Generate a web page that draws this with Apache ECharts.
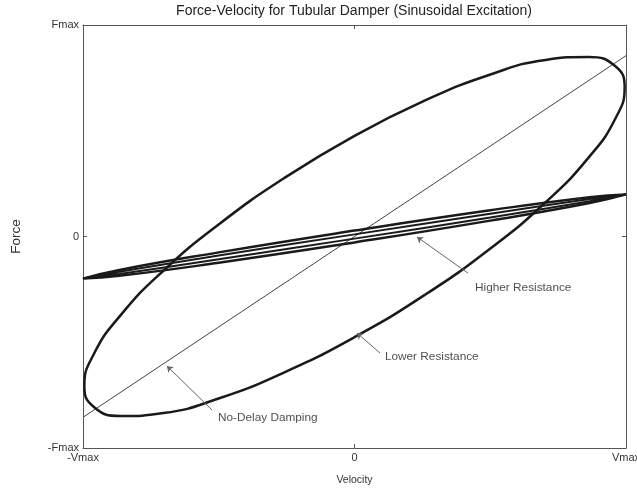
<!DOCTYPE html>
<html>
<head>
<meta charset="utf-8">
<script src="https://cdn.jsdelivr.net/npm/echarts@6/dist/echarts.min.js"></script>
<style>html,body{margin:0;padding:0;background:#fff;overflow:hidden;}#c{width:637px;height:493px;}</style>
</head>
<body>
<div id="c"></div>
<script>
// Axis ticks (normalised units) and their labels
const velocityTicks = [-1, 0, 1];
const velocityTickLabels = ['-Vmax', '0', 'Vmax'];
const forceTicks = [-1, 0, 1];
const forceTickLabels = ['-Fmax', '0', 'Fmax'];

// No-delay damping: straight line through origin
const noDelayDamping = [[-1, -0.855], [1, 0.855]];

// Lower resistance loop (large ellipse)
const lowerResistance = [
  [0, 0.476], [0.258, 0.642], [0.498, 0.765], [0.704, 0.835], [0.862, 0.849],
  [0.961, 0.805], [0.995, 0.706], [0.961, 0.558], [0.862, 0.373], [0.704, 0.162],
  [0.498, -0.059], [0.258, -0.277], [0, -0.476], [-0.258, -0.642], [-0.498, -0.765],
  [-0.704, -0.835], [-0.862, -0.849], [-0.961, -0.805], [-0.995, -0.706], [-0.961, -0.558],
  [-0.862, -0.373], [-0.704, -0.162], [-0.498, 0.059], [-0.258, 0.277], [0, 0.476]
];

// Higher resistance loops (narrow band), outer and inner
const higherResistanceOuter = [
  [1, 0.199], [0.866, 0.158], [0.5, 0.075], [0, -0.028], [-0.5, -0.124], [-0.866, -0.186],
  [-1, -0.199], [-0.866, -0.158], [-0.5, -0.075], [0, 0.028], [0.5, 0.124], [0.866, 0.186], [1, 0.199]
];
const higherResistanceInner = [
  [1, 0.199], [0.866, 0.167], [0.5, 0.090], [0, -0.010], [-0.5, -0.108], [-0.866, -0.177],
  [-1, -0.199], [-0.866, -0.167], [-0.5, -0.090], [0, 0.010], [0.5, 0.108], [0.866, 0.177], [1, 0.199]
];

// Annotations: text, text anchor, arrow start, arrow tip (data units)
const annotationTexts = ['Higher Resistance', 'Lower Resistance', 'No-Delay Damping'];
const annotationTextAt = [[0.444, -0.243], [0.112, -0.570], [-0.503, -0.858]];
const annotationArrowFrom = [[0.418, -0.173], [0.094, -0.551], [-0.525, -0.820]];
const annotationArrowTo = [[0.230, -0.002], [0.009, -0.456], [-0.691, -0.612]];

const FONT = "'Liberation Sans', Arial, sans-serif";
const chart = echarts.init(document.getElementById('c'), null, {renderer: 'canvas'});

function axisCommon(labels, ticks, show) {
  return {
    type: 'value', min: -1, max: 1, interval: 1,
    axisLine: {show: true, onZero: false, lineStyle: {color: '#555', width: 1}},
    axisTick: {show: true, inside: true, length: 4, lineStyle: {color: '#555'}},
    splitLine: {show: false},
    axisLabel: {
      show: show, color: '#333', fontSize: 11, fontFamily: FONT, margin: 4,
      formatter: v => labels[ticks.indexOf(v)]
    }
  };
}

const option = {
  backgroundColor: '#fff',
  animation: false,
  graphic: [{
    type: 'text', x: 354, y: 11, z: 10,
    style: {
      text: 'Force-Velocity for Tubular Damper (Sinusoidal Excitation)',
      align: 'center', verticalAlign: 'middle',
      fontSize: 14, fontFamily: FONT, fill: '#222'
    }
  }],
  grid: {left: 83, right: 11, top: 25, bottom: 45, containLabel: false, outerBoundsMode: 'none'},
  xAxis: [
    Object.assign(axisCommon(velocityTickLabels, velocityTicks, true), {
      position: 'bottom', name: 'Velocity', nameLocation: 'middle', nameGap: 27,
      nameTextStyle: {fontSize: 10.5, color: '#333', fontFamily: FONT}
    }),
    Object.assign(axisCommon(velocityTickLabels, velocityTicks, false), {position: 'top'})
  ],
  yAxis: [
    Object.assign(axisCommon(forceTickLabels, forceTicks, true), {
      position: 'left', name: 'Force', nameLocation: 'middle', nameGap: 60,
      nameTextStyle: {fontSize: 13.5, color: '#333', fontFamily: FONT}
    }),
    Object.assign(axisCommon(forceTickLabels, forceTicks, false), {position: 'right'})
  ],
  series: [
    {
      type: 'line', name: 'No-Delay Damping', data: noDelayDamping, showSymbol: false,
      lineStyle: {color: '#444', width: 1}, z: 2
    },
    {
      type: 'line', name: 'Lower Resistance', data: lowerResistance, showSymbol: false, smooth: true,
      lineStyle: {color: '#1a1a1a', width: 2.5}, z: 3
    },
    {
      type: 'line', name: 'Higher Resistance outer', data: higherResistanceOuter, showSymbol: false, smooth: true,
      lineStyle: {color: '#1a1a1a', width: 2.5}, z: 3
    },
    {
      type: 'line', name: 'Higher Resistance inner', data: higherResistanceInner, showSymbol: false, smooth: true,
      lineStyle: {color: '#1a1a1a', width: 2}, z: 3
    },
    {
      type: 'lines', coordinateSystem: 'cartesian2d', z: 4,
      symbol: ['none', 'arrow'], symbolSize: 6,
      lineStyle: {color: '#666', width: 1, opacity: 1},
      data: annotationArrowFrom.map((p, i) => ({coords: [p, annotationArrowTo[i]]}))
    },
    {
      type: 'scatter', symbolSize: 0, z: 5,
      label: {show: true, position: 'right', distance: 0, formatter: '{b}',
        color: '#222', fontSize: 11.8, fontFamily: FONT},
      data: annotationTexts.map((t, i) => ({name: t, value: annotationTextAt[i]}))
    }
  ]
};
chart.setOption(option);
</script>
</body>
</html>
